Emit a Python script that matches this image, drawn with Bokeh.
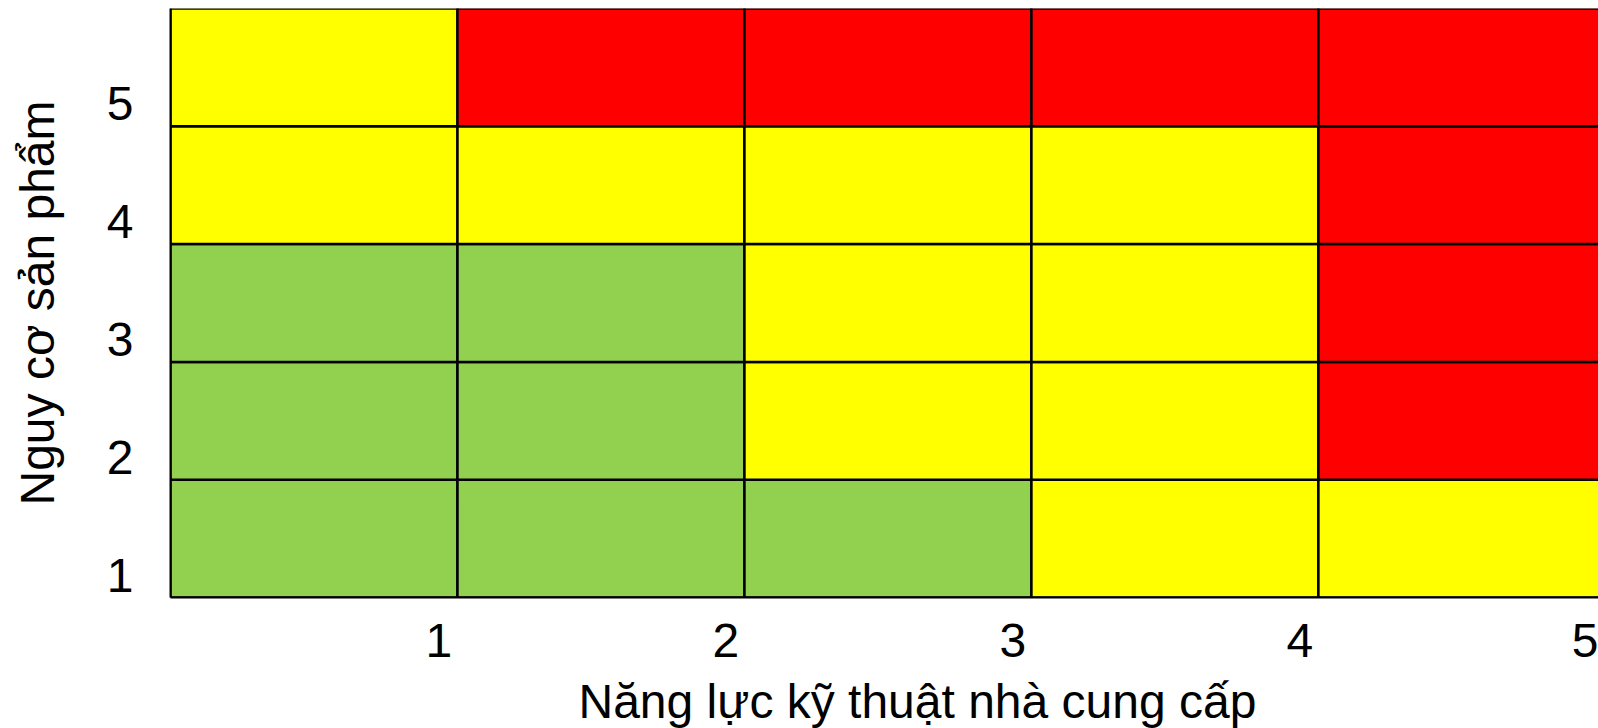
from bokeh.plotting import figure
from bokeh.models import ColumnDataSource, FixedTicker, Title
from bokeh.embed import file_html
from bokeh.resources import INLINE

# ---- data ----
x_values = [1, 2, 3, 4, 5]          # Năng lực kỹ thuật nhà cung cấp
y_values = [1, 2, 3, 4, 5]          # Nguy cơ sản phẩm
x_tick_labels = ["1", "2", "3", "4", "5"]
y_tick_labels = ["1", "2", "3", "4", "5"]
# risk level per row (row 1 at bottom), per column 1..5
row1 = ["low", "low", "low", "medium", "medium"]
row2 = ["low", "low", "medium", "medium", "high"]
row3 = ["low", "low", "medium", "medium", "high"]
row4 = ["medium", "medium", "medium", "medium", "high"]
row5 = ["medium", "high", "high", "high", "high"]
rows = [row1, row2, row3, row4, row5]
level_colors = {"low": "#92D050", "medium": "#FFFF00", "high": "#FF0000"}

x_label = "Năng lực kỹ thuật nhà cung cấp"
y_label = "Nguy cơ sản phẩm"

FONT = "Liberation Sans"

xs, ys, cs = [], [], []
for yi, row in zip(y_values, rows):
    for xi, lvl in zip(x_values, row):
        xs.append(xi - 0.5)
        ys.append(yi - 0.5)
        cs.append(level_colors[lvl])
src = ColumnDataSource(dict(x=xs, y=ys, c=cs))

p = figure(width=1598, height=728, x_range=(0, 4.976), y_range=(0, 5),
           output_backend="svg", toolbar_location=None,
           min_border_left=170, min_border_right=0, min_border_top=8,
           min_border_bottom=131)
p.rect(x="x", y="y", width=1, height=1, source=src, fill_color="c",
       line_color="black", line_width=2.5)

p.grid.visible = False
p.outline_line_color = None
p.background_fill_color = "white"

x_ticks = [v - 0.065 for v in x_values]
y_ticks = [v - 1 + 0.19 for v in y_values]
p.xaxis.ticker = FixedTicker(ticks=x_ticks)
p.yaxis.ticker = FixedTicker(ticks=y_ticks)
p.xaxis.major_label_overrides = {t: l for t, l in zip(x_ticks, x_tick_labels)}
p.yaxis.major_label_overrides = {t: l for t, l in zip(y_ticks, y_tick_labels)}

for ax in (p.xaxis, p.yaxis):
    ax.major_tick_line_color = None
    ax.minor_tick_line_color = None
    ax.major_tick_out = 0
    ax.major_tick_in = 0
    ax.axis_line_color = "black"
    ax.axis_line_width = 2
    ax.major_label_text_font = FONT
    ax.major_label_text_font_size = "48px"
    ax.major_label_text_color = "black"

p.xaxis.major_label_standoff = 26
p.yaxis.major_label_standoff = 37

# spacer below the x tick labels (keeps the title lower without moving the frame)
p.xaxis.axis_label = " "
p.xaxis.axis_label_text_font_size = "1px"
p.xaxis.axis_label_standoff = 9

p.yaxis.axis_label = y_label
p.yaxis.axis_label_text_font = FONT
p.yaxis.axis_label_text_font_size = "48px"
p.yaxis.axis_label_text_font_style = "normal"
p.yaxis.axis_label_text_color = "black"
p.yaxis.axis_label_standoff = 40

t = Title(text=x_label, align="left", offset=408, text_font=FONT,
          text_font_size="48px", text_font_style="normal", text_color="black",
          standoff=1)
p.add_layout(t, "below")

open("out.html", "w").write(file_html(p, INLINE))
